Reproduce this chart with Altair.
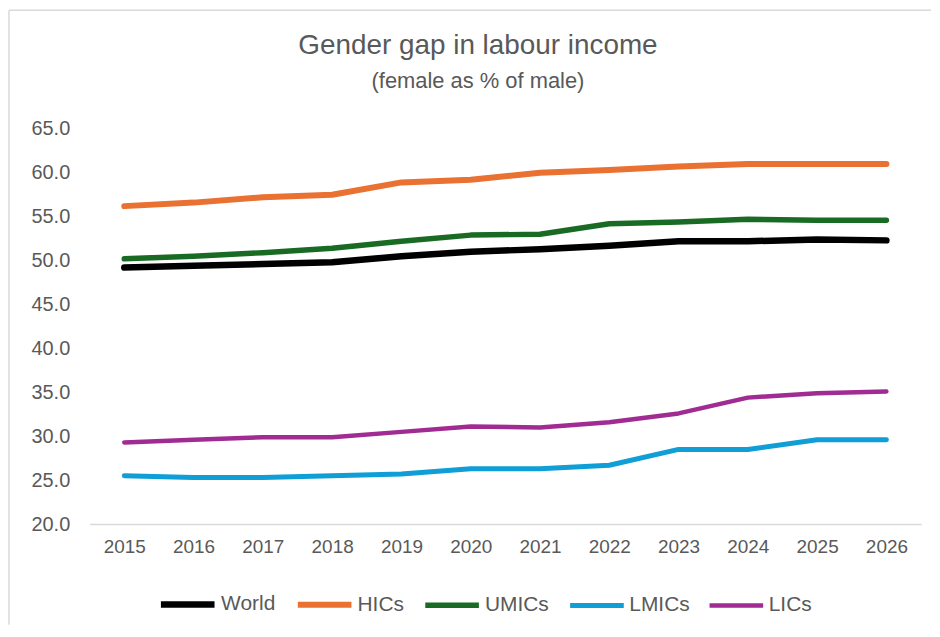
import altair as alt
import pandas as pd

years = [2015, 2016, 2017, 2018, 2019, 2020, 2021, 2022, 2023, 2024, 2025, 2026]
world = [49.2, 49.4, 49.6, 49.8, 50.5, 51.0, 51.3, 51.7, 52.2, 52.2, 52.4, 52.3]
hics = [56.2, 56.6, 57.2, 57.5, 58.9, 59.2, 60.0, 60.3, 60.7, 61.0, 61.0, 61.0]
umics = [50.2, 50.5, 50.9, 51.4, 52.2, 52.9, 53.0, 54.2, 54.4, 54.7, 54.6, 54.6]
lmics = [25.5, 25.3, 25.3, 25.5, 25.7, 26.3, 26.3, 26.7, 28.5, 28.5, 29.6, 29.6]
lics = [29.3, 29.6, 29.9, 29.9, 30.5, 31.1, 31.0, 31.6, 32.6, 34.4, 34.9, 35.1]

series_names = ["World", "HICs", "UMICs", "LMICs", "LICs"]
series_colors = ["#000000", "#E97132", "#196B24", "#0F9ED5", "#A02B93"]
series_widths = [6.5, 4.5, 4.5, 4.5, 4.5]

title_text = "Gender gap in labour income"
subtitle_text = "(female as % of male)"

rows = []
for name, vals in zip(series_names, [world, hics, umics, lmics, lics]):
    for y, v in zip(years, vals):
        rows.append({"year": str(y), "value": v, "series": name})
df = pd.DataFrame(rows)

FONT = "Liberation Sans"
GREY = "#595959"

lines = alt.Chart(df).mark_line(strokeCap="round", strokeJoin="round").encode(
    x=alt.X("year:O", title=None,
            scale=alt.Scale(type="point", padding=0.5),
            axis=alt.Axis(labelAngle=0, labelFontSize=19, labelColor=GREY, labelFont=FONT,
                          ticks=False, domain=True, domainColor="#D9D9D9", domainWidth=1.5,
                          labelPadding=14, grid=False)),
    y=alt.Y("value:Q", title=None,
            scale=alt.Scale(domain=[20, 65], nice=False, zero=False),
            axis=alt.Axis(values=[20, 25, 30, 35, 40, 45, 50, 55, 60, 65], format=".1f",
                          labelFontSize=20, labelColor=GREY, labelFont=FONT,
                          ticks=False, domain=False, grid=False, labelPadding=20)),
    color=alt.Color("series:N", title=None,
                    scale=alt.Scale(domain=series_names, range=series_colors),
                    sort=series_names,
                    legend=alt.Legend(orient="none", direction="horizontal",
                                      legendX=68, legendY=447,
                                      symbolType="stroke", symbolSize=2900,
                                      symbolStrokeWidth=5, labelFontSize=21,
                                      labelFont=FONT, labelColor=GREY,
                                      labelOffset=3, columnPadding=10)),
    strokeWidth=alt.StrokeWidth("series:N",
                                scale=alt.Scale(domain=series_names, range=series_widths),
                                legend=None),
    order=alt.Order("year:O"),
)

frame = alt.Data(values=[{}])
top_edge = alt.Chart(frame).mark_rule(stroke="#D9D9D9", strokeWidth=1.5).encode(
    x=alt.value(-81), x2=alt.value(845), y=alt.value(-119),
)
left_edge = alt.Chart(frame).mark_rule(stroke="#D9D9D9", strokeWidth=1.5).encode(
    x=alt.value(-81), y=alt.value(-119), y2=alt.value(498),
)

title_mark = alt.Chart(alt.Data(values=[{"t": title_text}])).mark_text(
    font=FONT, fontSize=28, color=GREY, align="center", baseline="alphabetic"
).encode(text="t:N", x=alt.value(390), y=alt.value(-75))

subtitle_mark = alt.Chart(alt.Data(values=[{"t": subtitle_text}])).mark_text(
    font=FONT, fontSize=22, color=GREY, align="center", baseline="alphabetic"
).encode(text="t:N", x=alt.value(390), y=alt.value(-41))

chart = alt.layer(top_edge, left_edge, title_mark, subtitle_mark, lines).properties(
    width=835,
    height=397,
    padding=0,
    background="white",
).configure_view(strokeWidth=0)

chart.save("out.html", embed_options={"renderer": "svg", "actions": False})
